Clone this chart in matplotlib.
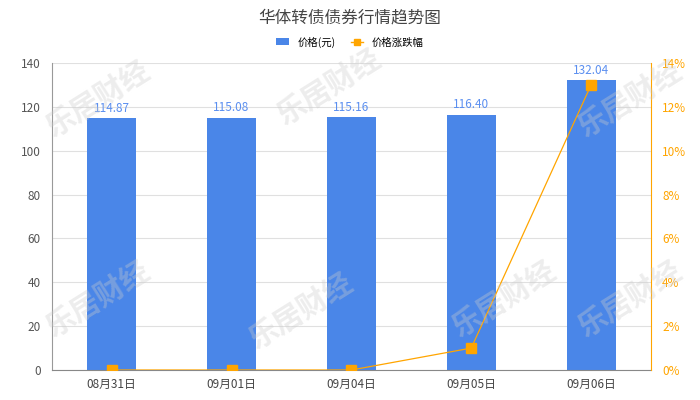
import numpy as np
import matplotlib.pyplot as plt
from matplotlib.lines import Line2D
from matplotlib.patches import Patch

plt.rcParams['font.family'] = ['Noto Sans CJK SC', 'DejaVu Sans']

# 数据
dates = ['08月31日', '09月01日', '09月04日', '09月05日', '09月06日']
price = [114.87, 115.08, 115.16, 116.40, 132.04]
change_pct = [0.0, 0.0, 0.0, 1.0, 13.0]

bar_color = '#4a86e8'
line_color = '#ffa500'

fig = plt.figure(figsize=(7, 4), dpi=100)
ax = fig.add_axes([0.074, 0.075, 0.856, 0.7675])
x = np.arange(len(dates))

ax.bar(x, price, width=0.41, color=bar_color, zorder=2)
for xi, v in zip(x, price):
    ax.text(xi, v + 1.5, f'{v:.2f}', ha='center', va='bottom', fontsize=8.5, color='#5b8ff0')

ax.set_xlim(-0.5, len(dates) - 0.5)
ax.set_ylim(0, 140)
ax.set_yticks(np.arange(0, 141, 20))
ax.set_xticks(x)
ax.set_xticklabels(dates)
ax.grid(axis='y', color='#e0e0e0', linewidth=0.8, zorder=0)
ax.tick_params(axis='y', length=0, labelsize=8.5, labelcolor='#555555', pad=8)
ax.tick_params(axis='x', length=0, labelsize=8.5, labelcolor='#444444', pad=6)
for s in ['top', 'right']:
    ax.spines[s].set_visible(False)
ax.spines['left'].set_color('#999999')
ax.spines['bottom'].set_color('#888888')

ax2 = ax.twinx()
ax2.plot(x, change_pct, color=line_color, linewidth=0.9, marker='s', markersize=7, zorder=3)
ax2.set_ylim(0, 14)
ax2.set_yticks(np.arange(0, 15, 2))
ax2.set_yticklabels([f'{v}%' for v in range(0, 15, 2)])
ax2.tick_params(axis='y', length=0, labelsize=8.5, labelcolor=line_color, pad=8)
for s in ['top', 'left', 'bottom']:
    ax2.spines[s].set_visible(False)
ax2.spines['right'].set_color(line_color)

fig.text(0.5, 0.955, '华体转债债券行情趋势图', ha='center', va='center', fontsize=12, color='#444444')

handles = [Patch(facecolor=bar_color, edgecolor='none'),
           Line2D([0], [0], color=line_color, marker='s', markersize=5, linewidth=1)]
fig.legend(handles, ['价格(元)', '价格涨跌幅'], loc='center', bbox_to_anchor=(0.5, 0.895),
           ncol=2, frameon=False, fontsize=7.5, handlelength=1.2, handleheight=0.7,
           columnspacing=1.5, handletextpad=0.8)

# 水印
for wx, wy in [(0.14, 0.75), (0.47, 0.78), (0.9, 0.75), (0.14, 0.25), (0.43, 0.22), (0.72, 0.25), (0.9, 0.25)]:
    fig.text(wx, wy, '乐居财经', ha='center', va='center', fontsize=21, fontweight='bold',
             color='#cccccc', alpha=0.35, rotation=32, zorder=10)

fig.savefig('out.png', dpi=100)
